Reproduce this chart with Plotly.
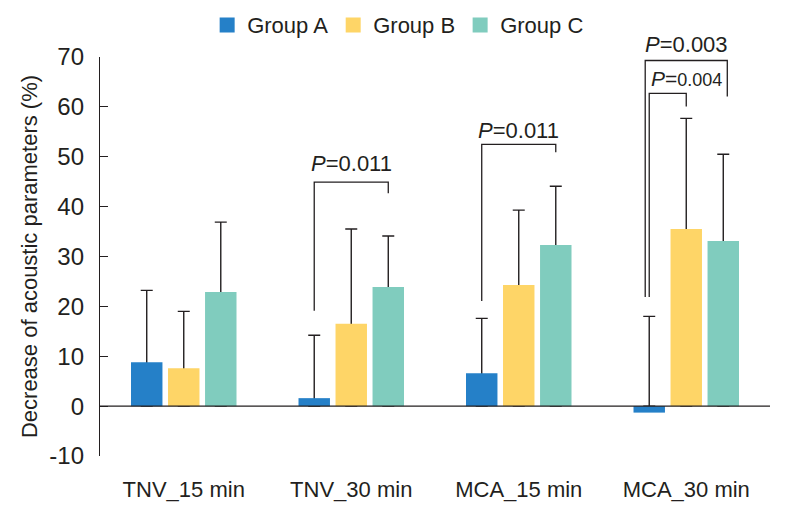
import plotly.graph_objects as go

categories = ["TNV_15 min", "TNV_30 min", "MCA_15 min", "MCA_30 min"]
group_names = ["Group A", "Group B", "Group C"]
group_a = [8.8, 1.6, 6.6, -1.3]
group_a_upper = [23.2, 14.2, 17.6, 18.0]
group_b = [7.6, 16.5, 24.3, 35.5]
group_b_upper = [19.0, 35.5, 39.3, 57.7]
group_c = [22.9, 23.9, 32.3, 33.1]
group_c_upper = [36.9, 34.1, 44.1, 50.5]
colors = ["#2580c8", "#fed567", "#80ccbe"]
y_ticks = [-10, 0, 10, 20, 30, 40, 50, 60, 70]
y_tick_labels = ["-10", "0", "10", "20", "30", "40", "50", "60", "70"]
Y_MIN, Y_MAX = -10, 70

# significance brackets: (category index, left group, right group, top, left leg bottom, right leg bottom, label, label y, font size, outward pad)
brackets = [
    (1, 0, 2, 44.9, 19.1, 42.7, "<i>P</i>=0.011", 48.6, 22, 0.0),
    (2, 0, 2, 52.5, 21.1, 50.9, "<i>P</i>=0.011", 55.3, 22, 0.0),
    (3, 0, 2, 69.3, 21.9, 62.1, "<i>P</i>=0.003", 72.6, 22, 0.024),
    (3, 0, 1, 62.7, 21.9, 60.1, "<i>P</i>=<span style='font-size:18px'>0.004</span>", 65.6, 21, 0.0),
]

INK = "#231f20"
FONT = "Liberation Sans, Arial, sans-serif"
BARGAP = 0.337
slot = (1 - BARGAP) / 3

fig = go.Figure()
series = [(group_a, group_a_upper), (group_b, group_b_upper), (group_c, group_c_upper)]
# error-bar carriers (transparent bars), drawn first so the solid bars hide their lower ends
for i, (vals, upper) in enumerate(series):
    fig.add_trace(go.Bar(
        x=categories, y=vals, offsetgroup=str(i), showlegend=False,
        marker=dict(color="rgba(0,0,0,0)", line=dict(width=0)),
        error_y=dict(type="data", symmetric=False,
                     array=[u - v for u, v in zip(upper, vals)],
                     arrayminus=vals, color=INK, thickness=1.4, width=6),
        hoverinfo="skip",
    ))
for i, (vals, upper) in enumerate(series):
    fig.add_trace(go.Bar(
        x=categories, y=vals, offsetgroup=str(i), showlegend=False,
        name=group_names[i], marker=dict(color=colors[i], line=dict(width=0)),
    ))
# legend entries
for i in range(3):
    fig.add_trace(go.Scatter(
        x=[None], y=[None], mode="markers", name=group_names[i],
        marker=dict(symbol="square", size=15, color=colors[i]),
    ))

shapes = [dict(type="line", xref="paper", yref="y", x0=0, x1=1, y0=0, y1=0,
               line=dict(color=INK, width=1.4), layer="above")]
annotations = []
for cat, gl, gr, top, lb, rb, label, ly, fs, pad in brackets:
    xl = cat + (gl - 1) * slot - pad
    xr = cat + (gr - 1) * slot + pad
    shapes.append(dict(type="path", xref="x", yref="y",
                       path=f"M {xl},{lb} L {xl},{top} L {xr},{top} L {xr},{rb}",
                       line=dict(color=INK, width=1.3), layer="above"))
    annotations.append(dict(x=cat, y=(ly - Y_MIN) / (Y_MAX - Y_MIN), xref="x", yref="paper",
                            text=label, showarrow=False,
                            font=dict(size=fs, color=INK, family=FONT),
                            xanchor="center", yanchor="middle"))

fig.update_layout(
    width=780, height=505,
    margin=dict(l=92, r=18, t=49, b=57, autoexpand=False),
    paper_bgcolor="white", plot_bgcolor="white",
    barmode="group", bargap=BARGAP, bargroupgap=0.15,
    font=dict(family=FONT, size=22, color=INK),
    shapes=shapes, annotations=annotations,
    legend=dict(orientation="h", x=0.445, xanchor="center", y=1.08, yanchor="middle",
                font=dict(size=22, color=INK), itemwidth=30, tracegroupgap=0,
                bgcolor="rgba(0,0,0,0)"),
    xaxis=dict(range=[-0.5, 3.5], showline=False, showgrid=False, zeroline=False,
               ticks="", ticklabelstandoff=18,
               tickfont=dict(size=22, color=INK)),
    yaxis=dict(range=[Y_MIN, Y_MAX], tickvals=y_ticks, ticktext=y_tick_labels,
               showline=True, linecolor=INK, linewidth=1.3,
               ticks="inside", ticklen=8, tickwidth=1.3, tickcolor=INK,
               showgrid=False, zeroline=False, ticklabelstandoff=10,
               tickfont=dict(size=24, color=INK),
               title=dict(text="Decrease of acoustic parameters (%)", standoff=5,
                          font=dict(size=22, color=INK))),
)

fig.write_html("out.html")
